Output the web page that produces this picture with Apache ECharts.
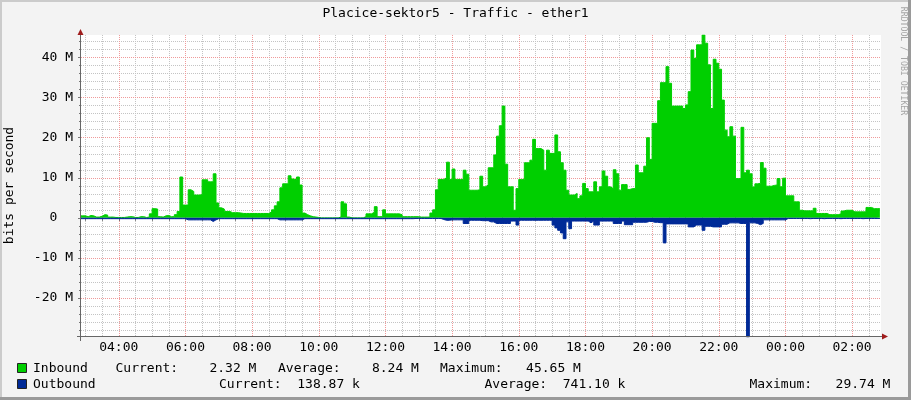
<!DOCTYPE html>
<html><head><meta charset="utf-8">
<script src="https://cdn.jsdelivr.net/npm/echarts@6/dist/echarts.min.js"></script>
<style>html,body{margin:0;padding:0;background:#f3f3f3}#c{width:911px;height:400px}</style>
</head><body><div id="c"></div>
<script>
// ---- data (Mbit/s), one sample per 5 minutes, sample start times in minutes after 00:00 ----
const chartTitle = 'Placice-sektor5 - Traffic - ether1';
const yTitle = 'bits per second';
const sideText = 'RRDTOOL / TOBI OETIKER';
const axisMin = -29.74, axisMax = 45.65;           // bits per second, in M
const timeStart = 172, timeEnd = 1612;              // 02:52 .. 02:52 next day (minutes)
const sampleStart = 170, sampleStep = 5;
const inbound = [
 0.5,0.5,0.3,0.6,0.5,0.2,0.2,0.4,0.8,0.7,
 0.2,0.2,0.1,0.1,0.1,0.1,0.2,0.3,0.3,0.1,
 0.1,0.3,0.3,0.1,0.2,1.0,2.3,2.2,0.3,0.2,
 0.5,0.6,0.3,0.3,0.8,1.6,10.2,3.2,3.2,7.0,
 6.6,5.7,5.7,5.8,9.5,9.5,9.0,9.0,11.0,3.7,
 2.5,2.2,1.6,1.6,1.3,1.3,1.3,1.2,1.1,1.1,
 1.1,1.1,1.1,1.1,1.1,1.1,1.1,1.1,1.5,2.0,
 3.0,4.0,7.5,8.5,8.5,10.5,9.7,9.5,10.2,8.2,
 1.2,0.8,0.5,0.3,0.2,0.1,0,0,0,0,
 0,0,0,0.2,4.0,3.5,0.2,0,0,0,
 0,0,0.3,1.0,1.0,1.4,2.8,0.3,0.3,2.0,
 1.0,1.0,1.0,1.0,1.0,0.8,0.3,0.3,0.3,0.3,
 0.3,0.3,0.2,0.2,0.2,0.2,1.2,2.0,7.0,9.6,
 9.6,10.0,13.9,9.6,12.2,9.6,9.6,9.6,11.9,10.9,
 6.9,6.9,6.9,7.0,10.4,7.75,8.2,12.5,12.5,15.7,
 20.4,23.0,27.9,13.4,7.75,7.75,1.9,7.3,9.6,9.6,
 13.75,13.75,14.4,19.6,17.3,17.3,16.9,11.9,16.9,16.1,
 16.1,20.7,16.5,13.75,11.9,6.9,5.7,5.7,6.1,4.8,
 5.5,8.6,7.3,6.5,6.5,9.0,6.5,7.75,11.7,10.4,
 7.75,7.3,12.0,11.0,6.9,8.3,8.3,7.1,7.3,7.3,
 13.2,11.25,11.25,12.9,20.0,14.6,23.6,23.6,29.25,33.75,
 33.75,37.75,33.6,27.9,27.9,27.9,27.9,27.3,28.2,31.5,
 41.9,39.8,43.2,43.2,45.65,43.6,38.2,27.3,39.6,38.6,
 37.1,29.4,21.9,20.25,22.75,20.4,9.8,9.8,22.6,11.25,
 11.9,11.0,7.7,8.5,8.6,13.8,12.4,7.9,7.9,8.1,
 8.2,9.8,7.75,9.9,5.5,5.5,5.5,4.0,4.0,1.9,
 1.75,1.75,1.75,1.75,2.4,1.1,1.1,1.1,1.1,0.8,
 0.8,0.8,0.8,1.0,1.7,1.9,1.9,1.9,1.5,1.5,
 1.5,1.5,1.5,2.6,2.6,2.3,2.3,2.3,2.32
];
const outbound = [
 0.2,0.2,0.2,0.2,0.2,0.2,0.2,0.2,0.2,0.2,
 0.2,0.2,0.2,0.2,0.2,0.2,0.2,0.2,0.2,0.2,
 0.2,0.2,0.2,0.2,0.2,0.2,0.2,0.2,0.2,0.2,
 0.2,0.2,0.2,0.2,0.2,0.2,0.2,0.2,0.5,0.5,
 0.5,0.5,0.5,0.5,0.5,0.5,0.5,0.9,0.5,0.2,
 0.2,0.2,0.2,0.2,0.2,0.2,0.2,0.2,0.2,0.2,
 0.2,0.2,0.2,0.2,0.2,0.2,0.2,0.2,0.2,0.2,
 0.2,0.5,0.5,0.5,0.5,0.5,0.5,0.5,0.5,0.5,
 0.2,0.2,0.2,0.2,0.2,0.2,0.2,0.2,0.2,0.2,
 0.2,0.2,0.2,0.2,0.2,0.2,0.2,0.2,0.2,0.2,
 0.2,0.2,0.2,0.2,0.2,0.2,0.2,0.2,0.2,0.2,
 0.2,0.2,0.2,0.2,0.2,0.2,0.2,0.2,0.2,0.2,
 0.15,0.15,0.15,0.15,0.15,0.15,0.15,0.15,0.15,0.15,
 0.4,0.6,0.6,0.5,0.5,0.5,0.5,0.5,1.4,1.4,
 0.6,0.6,0.6,0.6,0.7,0.7,0.7,1.0,1.0,1.4,
 1.4,1.4,1.4,1.4,1.4,0.8,0.8,1.8,0.6,0.6,
 0.6,0.6,0.6,0.6,0.6,0.6,0.6,0.6,0.6,0.6,
 1.8,2.5,3.1,3.75,5.2,1.0,2.7,0.8,0.8,0.8,
 0.8,0.8,0.8,1.25,0.8,1.8,1.8,0.8,0.8,0.8,
 0.8,0.8,1.4,1.4,1.4,0.8,1.7,1.7,1.7,1.1,
 1.1,1.1,1.1,1.1,0.9,0.9,1.1,1.1,1.2,1.2,
 6.25,1.5,1.5,1.5,1.5,1.5,1.5,1.5,1.5,2.25,
 2.25,1.8,1.8,1.8,3.1,2.1,2.1,2.25,2.25,2.25,
 2.25,1.6,1.6,1.25,1.25,1.25,1.25,1.4,1.4,1.4,
 29.74,1.25,1.25,1.4,1.7,1.4,0.5,0.5,0.5,0.5,
 0.5,0.5,0.5,0.5,0.15,0.15,0.15,0.15,0.15,0.15,
 0.15,0.15,0.2,0.15,0.15,0.15,0.15,0.2,0.15,0.15,
 0.15,0.15,0.15,0.2,0.15,0.15,0.15,0.15,0.15,0.15,
 0.15,0.2,0.15,0.15,0.15,0.15,0.15,0.15,0.139
];
const xMinorTicks = [180,210,240,270,300,330,360,390,420,450,480,510,540,570,600,630,660,690,720,750,780,810,840,870,900,930,960,990,1020,1050,1080,1110,1140,1170,1200,1230,1260,1290,1320,1350,1380,1410,1440,1470,1500,1530,1560,1590];
const xMajorTicks = [240,360,480,600,720,840,960,1080,1200,1320,1440,1560];
const yMinorTicks = [-28,-26,-24,-22,-20,-18,-16,-14,-12,-10,-8,-6,-4,-2,0,2,4,6,8,10,12,14,16,18,20,22,24,26,28,30,32,34,36,38,40,42,44];
const yMajorTicks = [-20,-10,0,10,20,30,40];
const legendNames = ['Inbound','Outbound'];
const legendIn = ['Current:    2.32 M', 'Average:    8.24 M', 'Maximum:   45.65 M'];
const legendOut = ['Current:  138.87 k', 'Average:  741.10 k', 'Maximum:   29.74 M'];

const GREEN = '#00cf00', BLUE = '#002a97';
const FONT = 'DejaVu Sans Mono';
const fnt = (s) => s + 'px "' + FONT + '"';

function hhmm(v) {
  const h = Math.round(v / 60) % 24;
  return (h < 10 ? '0' : '') + h + ':00';
}
function yfmt(v) { return v === 0 ? '0  ' : v + ' M'; }

const chart = echarts.init(document.getElementById('c'), null, {renderer: 'canvas'});
const minorGrid = {color: '#c4c4c4', width: 1, type: [1, 1]};
const majorGrid = {color: '#f09a9a', width: 1, type: [1, 1]};

const option = {
  animation: false,
  backgroundColor: '#f3f3f3',
  grid: {left: 81, right: 30, top: 35, bottom: 63, show: true, backgroundColor: '#ffffff', borderWidth: 0, containLabel: false, outerBoundsMode: 'none'},
  xAxis: [
    {type: 'value', min: timeStart, max: timeEnd, position: 'bottom', z: 0,
     axisLine: {show: false},
     axisTick: {show: true, customValues: xMinorTicks, length: 3, inside: false, lineStyle: {color: '#777'}},
     axisLabel: {show: false},
     splitLine: {show: true, lineStyle: minorGrid}},
    {type: 'value', min: timeStart, max: timeEnd, position: 'bottom', z: 1,
     axisLine: {show: false},
     axisTick: {show: true, customValues: xMajorTicks, length: 3, lineStyle: {color: '#777'}},
     axisLabel: {show: true, customValues: xMajorTicks, formatter: hhmm, margin: 4,
                 fontFamily: FONT, fontSize: 13, color: '#000'},
     splitLine: {show: true, lineStyle: majorGrid}}
  ],
  yAxis: [
    {type: 'value', min: axisMin, max: axisMax, position: 'left', z: 0,
     axisLine: {show: false},
     axisTick: {show: true, customValues: yMinorTicks, length: 2, lineStyle: {color: '#777'}},
     axisLabel: {show: false},
     splitLine: {show: true, lineStyle: minorGrid}},
    {type: 'value', min: axisMin, max: axisMax, position: 'left', z: 1,
     axisLine: {show: false},
     axisTick: {show: true, customValues: yMajorTicks, length: 3, lineStyle: {color: '#777'}},
     axisLabel: {show: true, customValues: yMajorTicks, formatter: yfmt, margin: 8,
                 fontFamily: FONT, fontSize: 13, color: '#000'},
     splitLine: {show: true, lineStyle: majorGrid}}
  ],
  series: [
    {name: 'Inbound', type: 'line', xAxisIndex: 1, yAxisIndex: 1, step: 'end',
     showSymbol: false, symbol: 'none', silent: true, z: 10,
     data: inbound.map((v, i) => [sampleStart + i * sampleStep, v]),
     lineStyle: {width: 1, color: GREEN}, itemStyle: {color: GREEN},
     areaStyle: {color: GREEN, opacity: 1}},
    {name: 'Outbound', type: 'line', xAxisIndex: 1, yAxisIndex: 1, step: 'end',
     showSymbol: false, symbol: 'none', silent: true, z: 11,
     data: outbound.map((v, i) => [sampleStart + i * sampleStep, -v]),
     lineStyle: {width: 1, color: BLUE}, itemStyle: {color: BLUE},
     areaStyle: {color: BLUE, opacity: 1}}
  ],
  graphic: [
    // frame shading
    {type: 'rect', silent: true, z: 50, shape: {x: 0, y: 0, width: 911, height: 2}, style: {fill: '#cbcbcb'}},
    {type: 'rect', silent: true, z: 50, shape: {x: 0, y: 0, width: 2, height: 400}, style: {fill: '#cbcbcb'}},
    {type: 'rect', silent: true, z: 50, shape: {x: 908, y: 0, width: 3, height: 400}, style: {fill: '#9a9a9a'}},
    {type: 'rect', silent: true, z: 50, shape: {x: 0, y: 397, width: 911, height: 3}, style: {fill: '#9a9a9a'}},
    // axis lines and arrows
    {type: 'line', silent: true, z: 60, shape: {x1: 80.5, y1: 33, x2: 80.5, y2: 341}, style: {stroke: '#666', lineWidth: 1}},
    {type: 'line', silent: true, z: 60, shape: {x1: 77, y1: 336.5, x2: 884, y2: 336.5}, style: {stroke: '#666', lineWidth: 1}},
    {type: 'polygon', silent: true, z: 61, shape: {points: [[77.5, 35], [83.5, 35], [80.5, 29]]}, style: {fill: '#a01c1c'}},
    {type: 'polygon', silent: true, z: 61, shape: {points: [[882, 333.5], [882, 339.5], [888, 336.5]]}, style: {fill: '#a01c1c'}},
    // title
    {type: 'text', silent: true, z: 70, x: 455.5, y: 14,
     style: {text: chartTitle, font: fnt(13), fill: '#000', align: 'center', verticalAlign: 'middle', textAlign: 'center', textVerticalAlign: 'middle'}},
    // y title
    {type: 'text', silent: true, z: 70, x: 10, y: 185.5, rotation: Math.PI / 2,
     style: {text: yTitle, font: fnt(13), fill: '#000', align: 'center', verticalAlign: 'middle', textAlign: 'center', textVerticalAlign: 'middle'}},
    // side text
    {type: 'text', silent: true, z: 70, x: 903, y: 61, rotation: -Math.PI / 2,
     style: {text: sideText, font: fnt(8.2), fill: '#a4a4a4', align: 'center', verticalAlign: 'middle', textAlign: 'center', textVerticalAlign: 'middle'}},
    // legend
    {type: 'rect', silent: true, z: 70, shape: {x: 17.5, y: 363.5, width: 9, height: 9}, style: {fill: GREEN, stroke: '#222', lineWidth: 1}},
    {type: 'rect', silent: true, z: 70, shape: {x: 17.5, y: 379.5, width: 9, height: 9}, style: {fill: BLUE, stroke: '#222', lineWidth: 1}},
    {type: 'text', silent: true, z: 70, x: 33, y: 368.5,
     style: {text: legendNames[0], font: fnt(13), fill: '#000', align: 'left', verticalAlign: 'middle', textAlign: 'left', textVerticalAlign: 'middle'}},
    {type: 'text', silent: true, z: 70, x: 115.5, y: 368.5,
     style: {text: legendIn[0], font: fnt(13), fill: '#000', align: 'left', verticalAlign: 'middle', textAlign: 'left', textVerticalAlign: 'middle'}},
    {type: 'text', silent: true, z: 70, x: 278, y: 368.5,
     style: {text: legendIn[1], font: fnt(13), fill: '#000', align: 'left', verticalAlign: 'middle', textAlign: 'left', textVerticalAlign: 'middle'}},
    {type: 'text', silent: true, z: 70, x: 440, y: 368.5,
     style: {text: legendIn[2], font: fnt(13), fill: '#000', align: 'left', verticalAlign: 'middle', textAlign: 'left', textVerticalAlign: 'middle'}},
    {type: 'text', silent: true, z: 70, x: 33, y: 384.5,
     style: {text: legendNames[1], font: fnt(13), fill: '#000', align: 'left', verticalAlign: 'middle', textAlign: 'left', textVerticalAlign: 'middle'}},
    {type: 'text', silent: true, z: 70, x: 219, y: 384.5,
     style: {text: legendOut[0], font: fnt(13), fill: '#000', align: 'left', verticalAlign: 'middle', textAlign: 'left', textVerticalAlign: 'middle'}},
    {type: 'text', silent: true, z: 70, x: 484.5, y: 384.5,
     style: {text: legendOut[1], font: fnt(13), fill: '#000', align: 'left', verticalAlign: 'middle', textAlign: 'left', textVerticalAlign: 'middle'}},
    {type: 'text', silent: true, z: 70, x: 749.5, y: 384.5,
     style: {text: legendOut[2], font: fnt(13), fill: '#000', align: 'left', verticalAlign: 'middle', textAlign: 'left', textVerticalAlign: 'middle'}}
  ]
};
chart.setOption(option);
</script>
</body></html>
